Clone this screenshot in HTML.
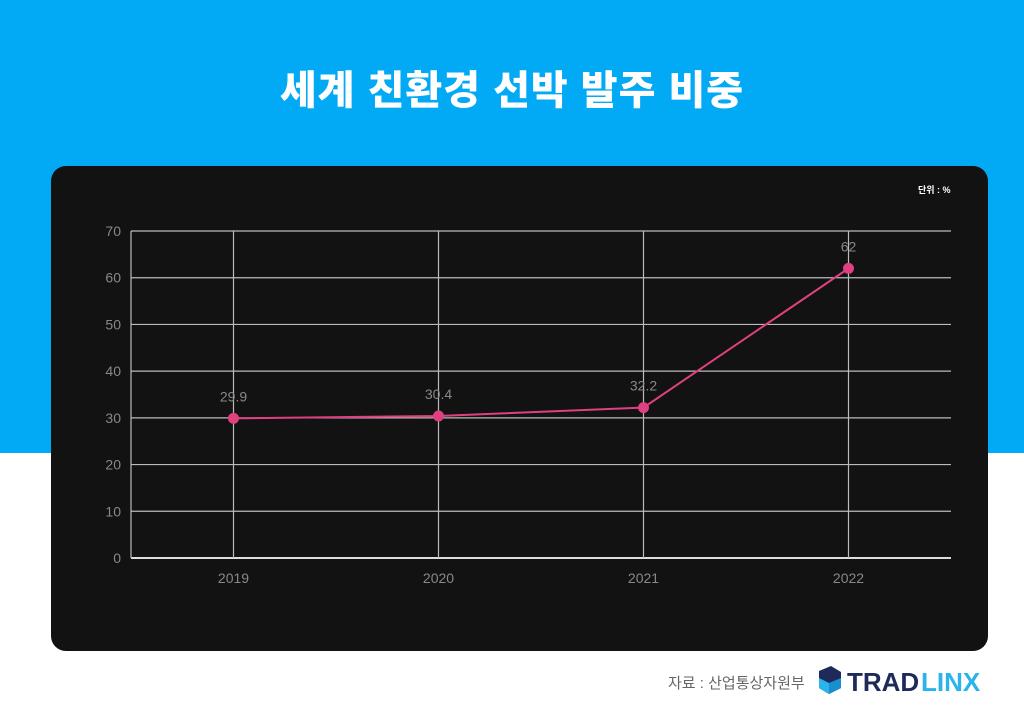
<!DOCTYPE html>
<html><head><meta charset="utf-8"><style>
body{margin:0;width:1024px;height:717px;position:relative;background:#fff;font-family:"Liberation Sans","Noto Sans CJK KR",sans-serif;overflow:hidden}
#band{position:absolute;left:0;top:0;width:1024px;height:453px;background:#02a9f4}
#title{position:absolute;left:0;top:58px;width:1024px;text-align:center;color:#fff;font-size:40px;font-weight:900;letter-spacing:1px}
#panel{position:absolute;left:51px;top:166px;width:937px;height:485px;background:#121212;border-radius:15px}
#unit{position:absolute;left:918px;top:183px;color:#fff;font-size:9px;font-weight:bold}
#src{position:absolute;left:668px;top:672px;color:#666;font-size:15px}
#logo{position:absolute;left:817px;top:666px}
</style></head><body>
<div id="band"></div>
<div id="title">세계 친환경 선박 발주 비중</div>
<div id="panel"></div>
<div id="unit">단위 : %</div>
<svg id="chart" width="1024" height="717" style="position:absolute;left:0;top:0"></svg>
<div id="src">자료 : 산업통상자원부</div>
<svg id="logo" width="170" height="30" viewBox="0 0 170 30">
<polygon points="2,5 14,0 24,6 24,22 12,28 2,22" fill="#1e2a5a"/>
<polygon points="2,12 12,17 12,28 2,22" fill="#29b4ec"/>
<polygon points="12,17 24,12 24,22 12,28" fill="#1a8fd0"/>
<text x="30" y="25" font-family="Liberation Sans" font-weight="900" font-size="26" fill="#1e2a5a">TRAD</text>
<text x="104" y="25" font-family="Liberation Sans" font-weight="900" font-size="26" fill="#29b4ec">LINX</text>
</svg>
<script>
const categories=["2019","2020","2021","2022"];
const values=[29.9,30.4,32.2,62];
const yTicks=[0,10,20,30,40,50,60,70];
const ns="http://www.w3.org/2000/svg";
const svg=document.getElementById('chart');
const x0=131,x1=951,yB=558,yT=231,yMax=70;
const bw=(x1-x0)/categories.length;
const xs=i=>x0+bw*(i+0.5);
const ys=v=>yB-(v/yMax)*(yB-yT);
function mk(t,a){const e=document.createElementNS(ns,t);for(const k in a)e.setAttribute(k,a[k]);svg.appendChild(e);return e;}
yTicks.forEach(t=>{
 const l=mk('line',{x1:x0,x2:x1,y1:ys(t),y2:ys(t),stroke:t===0?'#ddd':'#bbb','stroke-width':t===0?2:1.2});
 
 
 const tx=mk('text',{x:x0-10,y:ys(t)+5,'text-anchor':'end',fill:'#888','font-size':14,'font-family':'Liberation Sans'});
 tx.textContent=t;
 
 
});
const lv=mk('line',{x1:x0,x2:x0,y1:yT,y2:yB,stroke:'#bbb','stroke-width':1.2});


categories.forEach((c,i)=>{
 const l=mk('line',{x1:xs(i),x2:xs(i),y1:yT,y2:yB,stroke:'#bbb','stroke-width':1.2});
 
 
 const tx=mk('text',{x:xs(i),y:yB+25,'text-anchor':'middle',fill:'#888','font-size':14,'font-family':'Liberation Sans'});
 tx.textContent=c;
 
 
});
const pl=mk('polyline',{points:values.map((v,i)=>xs(i)+','+ys(v)).join(' '),fill:'none',stroke:'#e0407f','stroke-width':2});


values.forEach((v,i)=>{
 const p=mk('circle',{cx:xs(i),cy:ys(v),r:5.5,fill:'#e0407f'});
 
 
 const tx=mk('text',{x:xs(i),y:ys(v)-17,'text-anchor':'middle',fill:'#888','font-size':14,'font-family':'Liberation Sans'});
 tx.textContent=v;
 
 
});
</script>
</body></html>
